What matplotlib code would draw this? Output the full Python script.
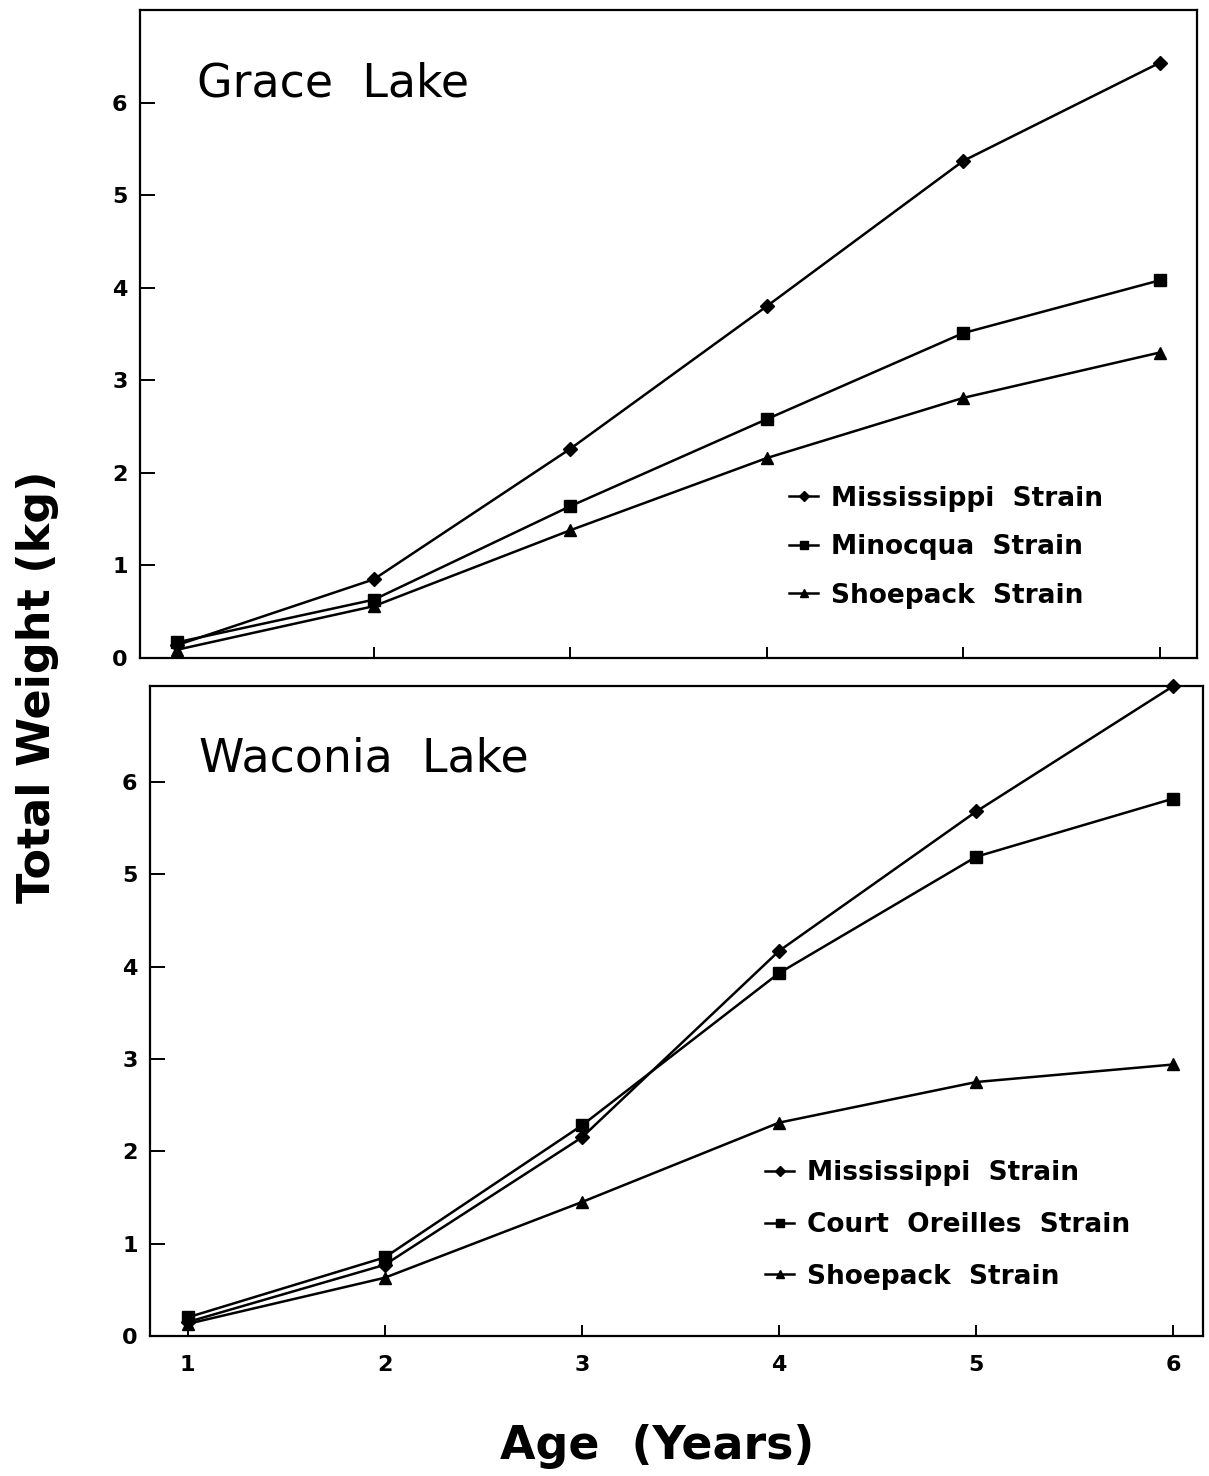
import matplotlib.pyplot as plt
import numpy as np

plt.rcParams['font.family'] = ['DejaVu Sans']

age = [1, 2, 3, 4, 5, 6]

# Grace Lake
grace_miss = [0.14, 0.85, 2.26, 3.80, 5.37, 6.43]
grace_mino = [0.17, 0.63, 1.64, 2.58, 3.51, 4.08]
grace_shoe = [0.09, 0.56, 1.38, 2.16, 2.81, 3.30]

# Waconia Lake
wac_miss = [0.15, 0.77, 2.15, 4.17, 5.68, 7.04]
wac_court = [0.20, 0.85, 2.28, 3.93, 5.19, 5.82]
wac_shoe = [0.13, 0.63, 1.45, 2.31, 2.75, 2.94]

yticks = [0, 1, 2, 3, 4, 5, 6]

fig = plt.figure(figsize=(12.09, 14.76), dpi=100)
ax1 = fig.add_axes([0.1158, 0.5542, 0.8743, 0.4390])
ax2 = fig.add_axes([0.1241, 0.0949, 0.8710, 0.4404])

lw = 1.8
ms = 8


def style(ax, xlim, ylim, xlabels):
    ax.set_xlim(*xlim)
    ax.set_ylim(*ylim)
    ax.set_yticks(yticks)
    ax.set_xticks(age)
    for s in ax.spines.values():
        s.set_linewidth(1.6)
    ax.tick_params(axis='y', direction='in', length=11, width=1.4, pad=9,
                   labelsize=16)
    ax.tick_params(axis='x', direction='in', length=8, width=1.4, pad=14,
                   labelsize=16, labelbottom=xlabels)
    for t in ax.get_xticklabels() + ax.get_yticklabels():
        t.set_fontweight('bold')


ax1.plot(age, grace_miss, color='black', lw=lw, marker='D', ms=ms - 1,
         label='Mississippi  Strain')
ax1.plot(age, grace_mino, color='black', lw=lw, marker='s', ms=ms,
         label='Minocqua  Strain')
ax1.plot(age, grace_shoe, color='black', lw=lw, marker='^', ms=ms + 1,
         label='Shoepack  Strain')
style(ax1, (0.81, 6.19), (0, 7.0), False)
ax1.text(0.054, 0.866, 'Grace  Lake', transform=ax1.transAxes,
         fontsize=33, va='baseline', ha='left')
leg1 = ax1.legend(loc='upper left', bbox_to_anchor=(0.614, 0.266),
                  frameon=False, fontsize=19, handlelength=1.1,
                  handletextpad=0.5, labelspacing=0.85, markerscale=0.7,
                  borderpad=0, borderaxespad=0)
for t in leg1.get_texts():
    t.set_fontweight('bold')

ax2.plot(age, wac_miss, color='black', lw=lw, marker='D', ms=ms - 1,
         label='Mississippi  Strain', clip_on=False)
ax2.plot(age, wac_court, color='black', lw=lw, marker='s', ms=ms,
         label='Court  Oreilles  Strain')
ax2.plot(age, wac_shoe, color='black', lw=lw, marker='^', ms=ms + 1,
         label='Shoepack  Strain')
style(ax2, (0.81, 6.15), (0, 7.04), True)
ax2.text(0.0465, 0.869, 'Waconia  Lake', transform=ax2.transAxes,
         fontsize=33, va='baseline', ha='left')
leg2 = ax2.legend(loc='upper left', bbox_to_anchor=(0.584, 0.27),
                  frameon=False, fontsize=19, handlelength=1.1,
                  handletextpad=0.5, labelspacing=0.97, markerscale=0.7,
                  borderpad=0, borderaxespad=0)
for t in leg2.get_texts():
    t.set_fontweight('bold')

fig.text(0.5435, 0.0197, 'Age  (Years)', ha='center', va='center',
         fontsize=33, fontweight='bold')
fig.text(0.031, 0.5346, 'Total Weight (kg)', ha='center', va='center',
         rotation=90, fontsize=32, fontweight='bold')

fig.savefig('out.png', dpi=100)
